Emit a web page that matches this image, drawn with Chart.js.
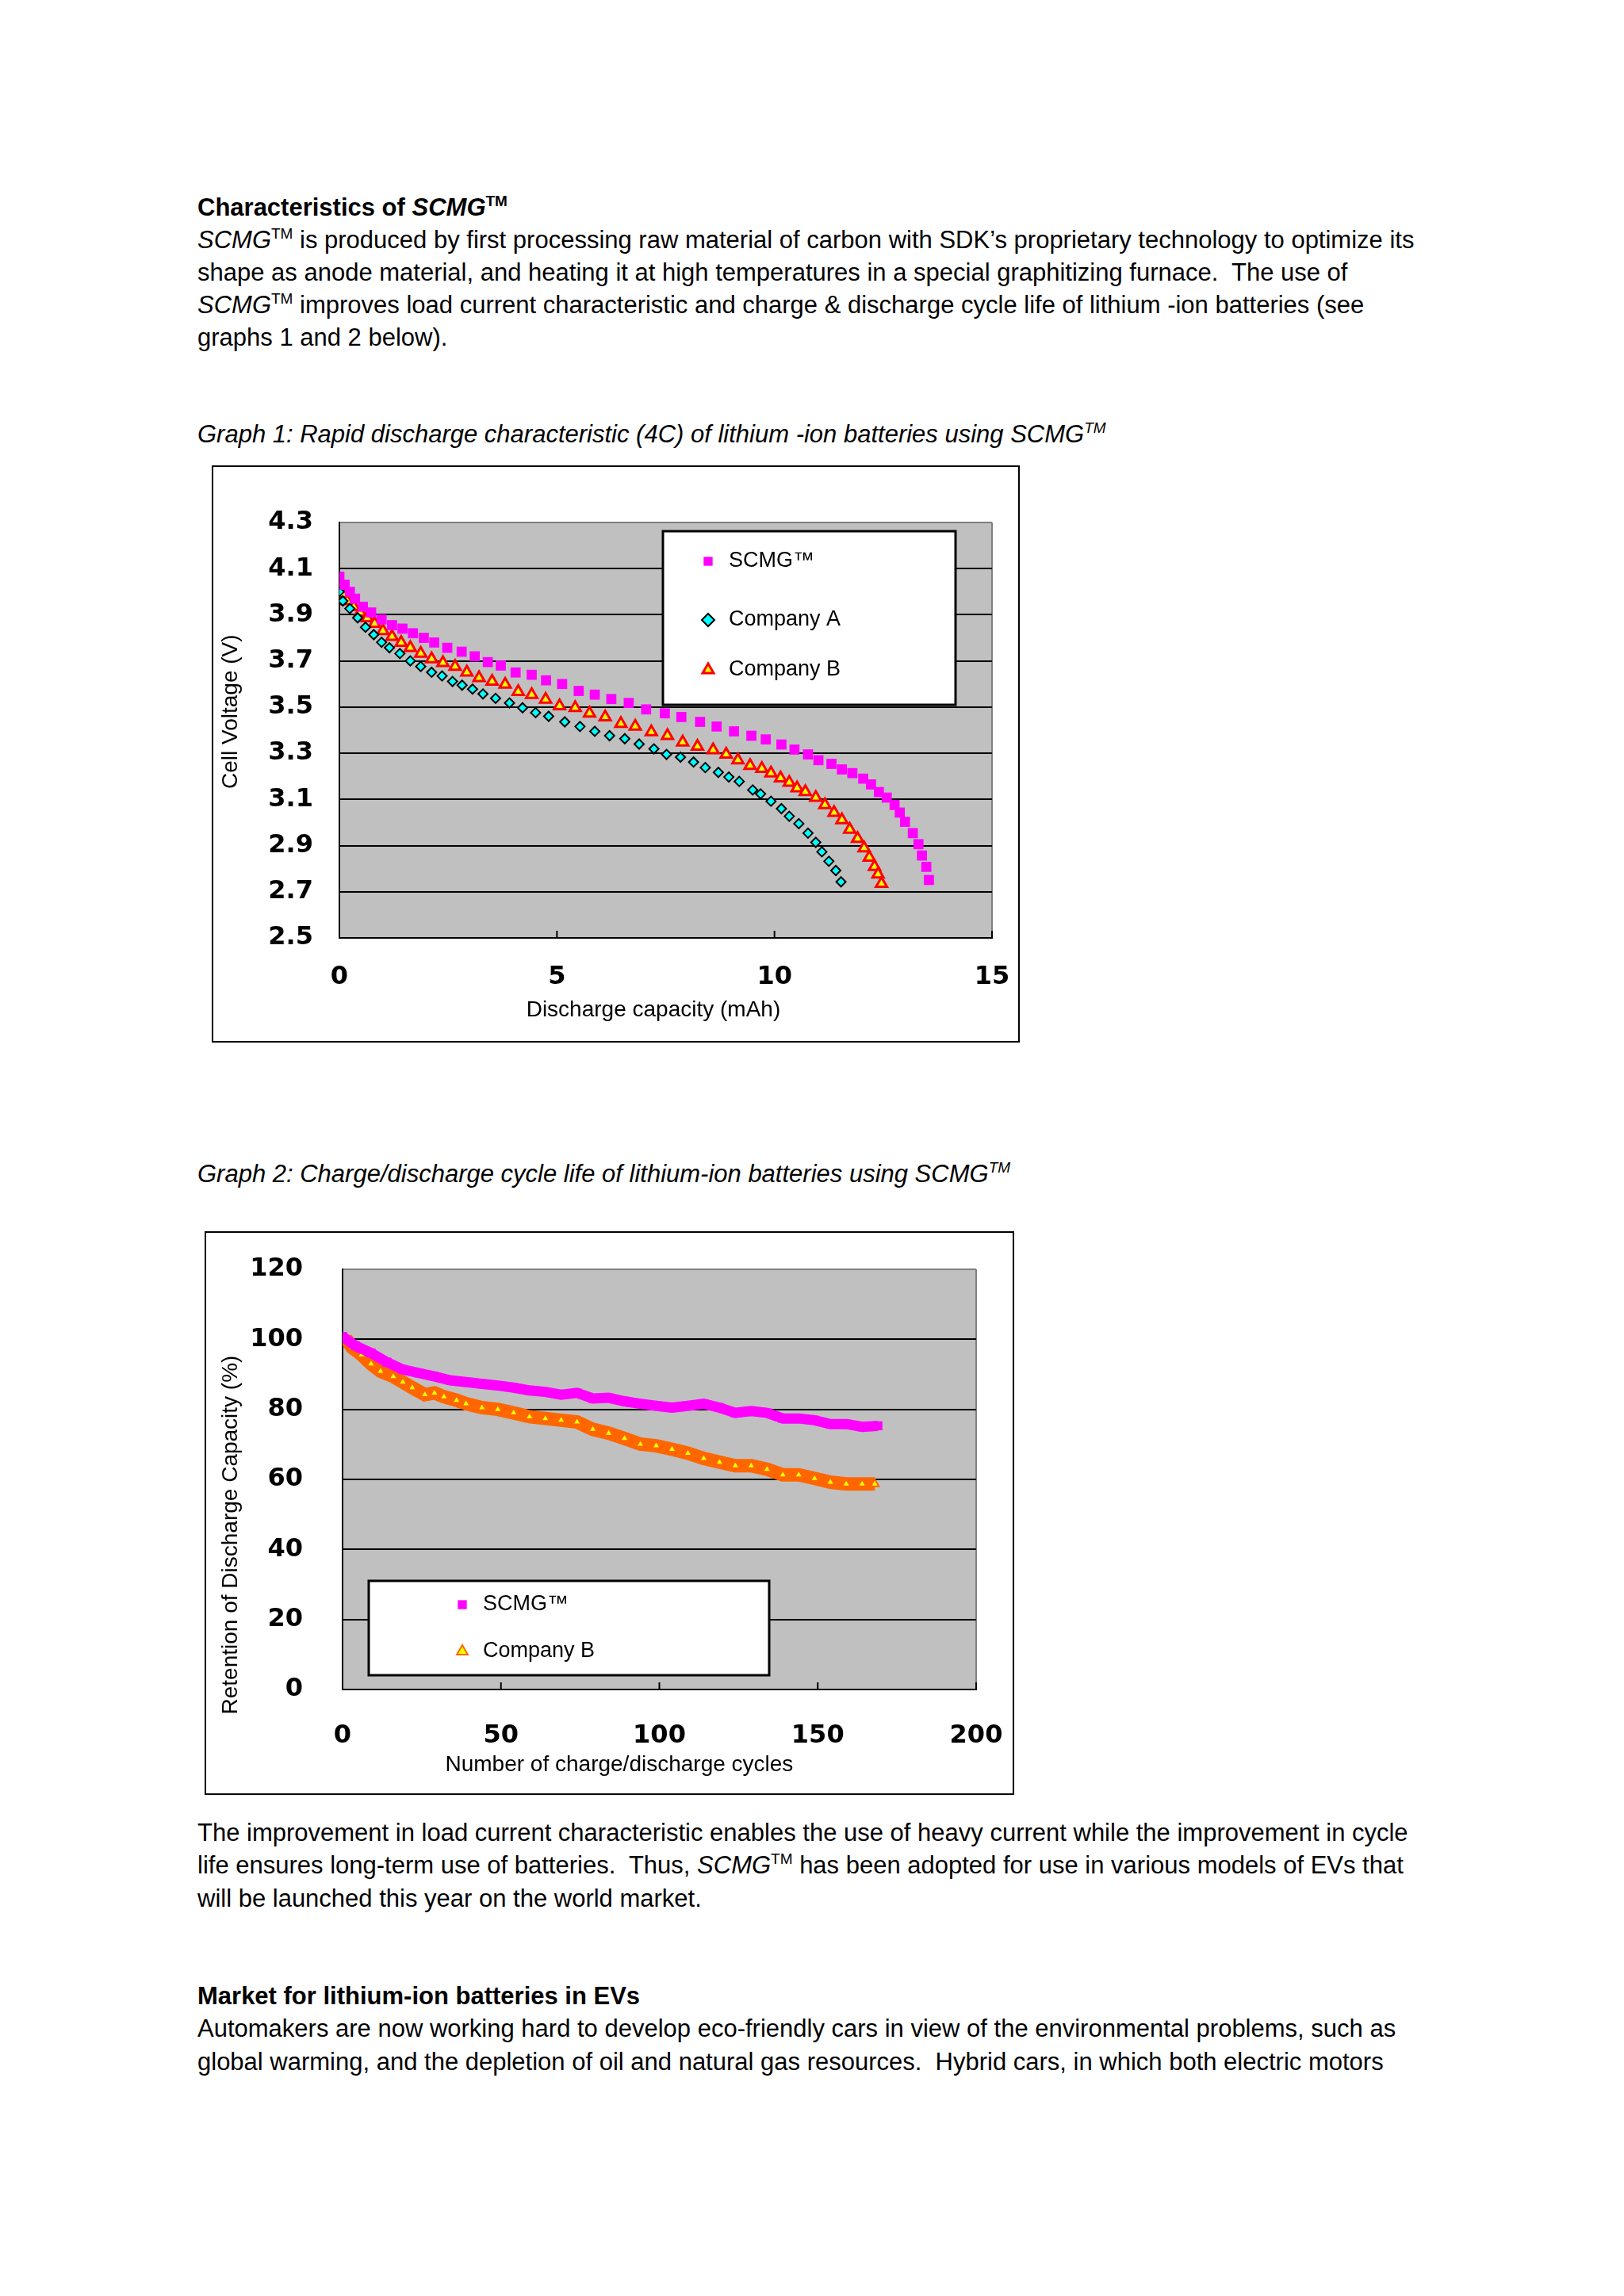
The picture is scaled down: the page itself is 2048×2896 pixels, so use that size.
<!DOCTYPE html>
<html>
<head>
<meta charset="utf-8">
<script src="https://cdn.jsdelivr.net/npm/chart.js@4.4.0/dist/chart.umd.min.js"></script>
<style>
  body { margin: 0; background: #fff; width: 2048px; height: 2896px; position: relative;
         font-family: "Liberation Sans", Arial, sans-serif; color: #000; }
  .ln { position: absolute; left: 249px; font-size: 31px; line-height: 34px; white-space: nowrap; }
  .ln sup { font-size: 19px; vertical-align: 0; position: relative; top: -12px; }
  .b { font-weight: bold; }
  .cap { font-style: italic; }
  .box { position: absolute; border: 2px solid #000; box-sizing: border-box; background: #fff; }
</style>
</head>
<body>

<div class="ln b" style="top:245px">Characteristics of <i>SCMG</i><sup>TM</sup></div>
<div class="ln" style="top:286px"><i>SCMG</i><sup>TM</sup> is produced by first processing raw material of carbon with SDK’s proprietary technology to optimize its</div>
<div class="ln" style="top:327px">shape as anode material, and heating it at high temperatures in a special graphitizing furnace.&nbsp; The use of</div>
<div class="ln" style="top:368px"><i>SCMG</i><sup>TM</sup> improves load current characteristic and charge &amp; discharge cycle life of lithium -ion batteries (see</div>
<div class="ln" style="top:409px">graphs 1 and 2 below).</div>

<div class="ln cap" style="top:531px">Graph 1: Rapid discharge characteristic (4C) of lithium -ion batteries using SCMG<sup>TM</sup></div>
<div class="box" style="left:267px;top:587px;width:1019px;height:728px"><canvas id="chart1"></canvas></div>

<div class="ln cap" style="top:1464px">Graph 2: Charge/discharge cycle life of lithium-ion batteries using SCMG<sup>TM</sup></div>
<div class="box" style="left:258px;top:1553px;width:1021px;height:711px"><canvas id="chart2"></canvas></div>

<div class="ln" style="top:2295px">The improvement in load current characteristic enables the use of heavy current while the improvement in cycle</div>
<div class="ln" style="top:2336px">life ensures long-term use of batteries.&nbsp; Thus, <i>SCMG</i><sup>TM</sup> has been adopted for use in various models of EVs that</div>
<div class="ln" style="top:2378px">will be launched this year on the world market.</div>

<div class="ln b" style="top:2501px">Market for lithium-ion batteries in EVs</div>
<div class="ln" style="top:2542px">Automakers are now working hard to develop eco-friendly cars in view of the environmental problems, such as</div>
<div class="ln" style="top:2584px">global warming, and the depletion of oil and natural gas resources.&nbsp; Hybrid cars, in which both electric motors</div>

<script>
// graph 1 - discharge capacity (mAh) vs cell voltage (V)
const cap_scmg = [0, 0.12, 0.24, 0.36, 0.54, 0.73, 0.97, 1.21, 1.45, 1.69, 1.94, 2.18, 2.48, 2.81, 3.11, 3.41, 3.71, 4.05, 4.42, 4.75, 5.12, 5.50, 5.87, 6.25, 6.65, 7.05, 7.48, 7.86, 8.29, 8.67, 9.07, 9.47, 9.80, 10.16, 10.46, 10.77, 11.01, 11.31, 11.55, 11.79, 12.04, 12.22, 12.40, 12.58, 12.76, 12.88, 13.00, 13.18, 13.31, 13.39, 13.49, 13.55];
const volt_scmg = [4.065, 4.03, 4.00, 3.97, 3.935, 3.91, 3.88, 3.855, 3.84, 3.82, 3.80, 3.78, 3.757, 3.74, 3.72, 3.695, 3.68, 3.65, 3.64, 3.616, 3.60, 3.57, 3.554, 3.535, 3.518, 3.49, 3.473, 3.457, 3.436, 3.416, 3.395, 3.376, 3.36, 3.338, 3.316, 3.295, 3.27, 3.254, 3.23, 3.214, 3.19, 3.165, 3.132, 3.108, 3.076, 3.043, 3.003, 2.954, 2.906, 2.857, 2.808, 2.751];

const cap_a = [0, 0.08, 0.24, 0.42, 0.60, 0.79, 0.97, 1.15, 1.39, 1.63, 1.87, 2.12, 2.36, 2.60, 2.82, 3.06, 3.30, 3.59, 3.91, 4.21, 4.51, 4.81, 5.18, 5.53, 5.87, 6.21, 6.56, 6.89, 7.23, 7.52, 7.84, 8.14, 8.41, 8.71, 8.95, 9.19, 9.50, 9.68, 9.92, 10.16, 10.34, 10.56, 10.77, 10.95, 11.09, 11.25, 11.41, 11.53];
const volt_a = [4.0, 3.96, 3.927, 3.887, 3.846, 3.814, 3.781, 3.757, 3.732, 3.70, 3.676, 3.651, 3.635, 3.611, 3.595, 3.578, 3.557, 3.538, 3.518, 3.497, 3.476, 3.46, 3.436, 3.416, 3.395, 3.376, 3.363, 3.34, 3.319, 3.295, 3.283, 3.262, 3.238, 3.217, 3.197, 3.178, 3.141, 3.124, 3.092, 3.06, 3.027, 2.995, 2.954, 2.914, 2.873, 2.832, 2.792, 2.743];

const cap_b = [0, 0.08, 0.18, 0.33, 0.48, 0.64, 0.81, 1.00, 1.21, 1.42, 1.63, 1.87, 2.12, 2.38, 2.66, 2.93, 3.21, 3.51, 3.81, 4.11, 4.42, 4.74, 5.06, 5.42, 5.75, 6.11, 6.47, 6.80, 7.17, 7.54, 7.89, 8.23, 8.59, 8.89, 9.16, 9.44, 9.71, 9.92, 10.14, 10.34, 10.52, 10.71, 10.95, 11.16, 11.37, 11.55, 11.73, 11.91, 12.06, 12.18, 12.30, 12.38, 12.46];
const volt_b = [4.024, 3.99, 3.96, 3.935, 3.91, 3.886, 3.862, 3.83, 3.805, 3.78, 3.757, 3.732, 3.708, 3.692, 3.676, 3.651, 3.627, 3.611, 3.598, 3.567, 3.554, 3.533, 3.505, 3.497, 3.473, 3.457, 3.428, 3.416, 3.392, 3.376, 3.348, 3.33, 3.314, 3.295, 3.27, 3.246, 3.233, 3.214, 3.192, 3.173, 3.149, 3.133, 3.108, 3.076, 3.043, 3.011, 2.97, 2.93, 2.889, 2.849, 2.808, 2.776, 2.735];

// graph 2 - cycles vs retention (%)
const cyc_scmg = [0, 4, 9, 14, 19, 24, 29, 34, 39, 44, 49, 54, 59, 64, 69, 74, 79, 84, 89, 94, 99, 104, 109, 114, 119, 124, 129, 134, 139, 144, 149, 154, 159, 164, 169];
const ret_scmg = [100.8, 98.2, 96.1, 93.5, 91.4, 90.4, 89.4, 88.3, 87.8, 87.3, 86.8, 86.2, 85.4, 85.0, 84.2, 84.7, 83.1, 83.3, 82.3, 81.6, 81.0, 80.5, 81.0, 81.6, 80.5, 79.0, 79.5, 79.0, 77.4, 77.4, 76.9, 75.8, 75.8, 75.0, 75.3];

const cyc_b = [1, 3, 6, 9, 12, 16, 19, 22, 26, 29, 32, 36, 39, 44, 49, 54, 59, 64, 69, 74, 79, 84, 89, 94, 99, 104, 109, 114, 119, 124, 129, 134, 139, 144, 149, 154, 159, 164, 168];
const ret_b = [100.3, 97.7, 95.6, 93.0, 90.9, 89.4, 87.8, 86.2, 84.2, 84.7, 83.6, 82.6, 81.6, 80.5, 80.0, 79.0, 77.9, 77.4, 76.9, 76.4, 74.3, 73.2, 71.7, 70.1, 69.6, 68.6, 67.5, 66.0, 64.9, 63.9, 63.9, 62.9, 61.3, 61.3, 60.3, 59.2, 58.7, 58.7, 58.7];

const xy = (xs, ys) => xs.map((x, i) => ({ x: x, y: ys[i] }));
const NB = '\u00a0';

// gray plot background
const plotBg = {
  id: 'plotBg',
  beforeDraw(chart) {
    const a = chart.chartArea, ctx = chart.ctx;
    ctx.save();
    ctx.fillStyle = '#c0c0c0';
    ctx.fillRect(a.left, a.top, a.right - a.left, a.bottom - a.top);
    ctx.restore();
  }
};

// small tick marks pointing into the plot from the x axis
const innerTicks = {
  id: 'innerTicks',
  afterDatasetsDraw(chart) {
    const ctx = chart.ctx, xs = chart.scales.x, a = chart.chartArea;
    ctx.save();
    ctx.strokeStyle = '#000';
    ctx.lineWidth = 2;
    xs.ticks.forEach(t => {
      const px = xs.getPixelForValue(t.value);
      ctx.beginPath();
      ctx.moveTo(px, a.bottom);
      ctx.lineTo(px, a.bottom - 9);
      ctx.stroke();
    });
    ctx.restore();
  }
};

// white boxed legend inside the plot
const boxLegend = {
  id: 'boxLegend',
  afterDraw(chart, args, o) {
    const ctx = chart.ctx, a = chart.chartArea;
    ctx.save();
    ctx.fillStyle = '#fff';
    ctx.fillRect(a.left + o.x, a.top + o.y, o.w, o.h);
    ctx.strokeStyle = '#000';
    ctx.lineWidth = 3;
    ctx.strokeRect(a.left + o.x, a.top + o.y, o.w, o.h);
    chart.data.datasets.forEach((ds, i) => {
      const y = a.top + o.rows[i];
      ctx.fillStyle = ds.pointBackgroundColor;
      ctx.strokeStyle = ds.pointBorderColor;
      ctx.lineWidth = ds.pointBorderWidth;
      Chart.helpers.drawPoint(ctx, { pointStyle: ds.pointStyle, radius: o.r, borderWidth: ds.pointBorderWidth }, a.left + o.mx, y);
      ctx.fillStyle = '#000';
      ctx.font = '27px "Liberation Sans", Arial, sans-serif';
      ctx.textBaseline = 'middle';
      ctx.fillText(ds.label, a.left + o.tx, y);
    });
    ctx.restore();
  }
};

function axisOpts(min, max, step, fmt, opt) {
  return {
    type: 'linear', min: min, max: max,
    ticks: { stepSize: step, padding: opt.tickPad, color: '#000', callback: fmt,
             font: { family: '"DejaVu Sans", sans-serif', size: 32, weight: 'bold' } },
    grid: { drawTicks: false, lineWidth: 2, color: opt.gridColor },
    border: { color: '#000', width: 2 },
    title: { display: true, text: opt.title, color: '#000', padding: opt.titlePad,
             font: { family: '"Liberation Sans", Arial, sans-serif', size: 28 } },
    afterFit: s => {
      opt.fit(s);
      // keep the plot exactly where the layout padding puts it
      s.paddingLeft = 0; s.paddingRight = 0; s.paddingTop = 0; s.paddingBottom = 0;
    }
  };
}

function drawchart1() {
  const ctx = document.getElementById('chart1').getContext('2d');
  new Chart(ctx, {
    type: 'scatter',
    data: {
      datasets: [
        { label: 'SCMG™', data: xy(cap_scmg, volt_scmg), pointStyle: 'rect', pointRadius: 9,
          pointBackgroundColor: '#ff00ff', pointBorderColor: '#ff00ff', pointBorderWidth: 0 },
        { label: 'Company A', data: xy(cap_a, volt_a), pointStyle: 'rectRot', pointRadius: 6,
          pointBackgroundColor: '#00ffff', pointBorderColor: '#000', pointBorderWidth: 2 },
        { label: 'Company B', data: xy(cap_b, volt_b), pointStyle: 'triangle', pointRadius: 8,
          pointBackgroundColor: '#ffff00', pointBorderColor: '#ff0000', pointBorderWidth: 3 }
      ]
    },
    options: {
      responsive: true, maintainAspectRatio: false, animation: false,
      layout: { padding: { top: 70, right: 33, left: 0, bottom: 0 } },
      scales: {
        x: axisOpts(0, 15, 5, v => v, {
          tickPad: 30, title: 'Discharge capacity (mAh)' + NB.repeat(4), titlePad: { top: 0, bottom: 22 },
          gridColor: c => (c.tick && c.tick.value === 15) ? '#808080' : 'rgba(0,0,0,0)',
          fit: s => { s.height = 130; } }),
        y: axisOpts(2.5, 4.3, 0.2, v => (+v).toFixed(1), {
          tickPad: 33, title: NB.repeat(6) + 'Cell Voltage (V)', titlePad: { top: 5, bottom: 0 },
          gridColor: c => (c.tick && c.tick.value > 4.29) ? '#808080' : '#000',
          fit: s => { s.width = 159; } })
      },
      plugins: {
        legend: { display: false },
        tooltip: { enabled: false },
        boxLegend: { x: 408, y: 11, w: 369, h: 219, mx: 465, tx: 491, r: 8, rows: [49, 123, 186] }
      }
    },
    plugins: [plotBg, innerTicks, boxLegend]
  });
}

function drawchart2() {
  const ctx = document.getElementById('chart2').getContext('2d');
  new Chart(ctx, {
    type: 'scatter',
    data: {
      datasets: [
        { label: 'SCMG™', data: xy(cyc_scmg, ret_scmg), showLine: true, borderColor: '#ff00ff', borderWidth: 13,
          pointStyle: 'rect', pointRadius: 8,
          pointBackgroundColor: '#ff00ff', pointBorderColor: '#ff00ff', pointBorderWidth: 0 },
        { label: 'Company B', data: xy(cyc_b, ret_b), showLine: true, borderColor: '#ff6600', borderWidth: 17,
          pointStyle: 'triangle', pointRadius: 6,
          pointBackgroundColor: '#ffff00', pointBorderColor: '#ff6600', pointBorderWidth: 2 }
      ]
    },
    options: {
      responsive: true, maintainAspectRatio: false, animation: false,
      layout: { padding: { top: 46, right: 46, left: 0, bottom: 0 } },
      scales: {
        x: axisOpts(0, 200, 50, v => v, {
          tickPad: 39, title: 'Number of charge/discharge cycles' + NB.repeat(13), titlePad: { top: 0, bottom: 19 },
          gridColor: c => (c.tick && c.tick.value === 200) ? '#808080' : 'rgba(0,0,0,0)',
          fit: s => { s.height = 131; } }),
        y: axisOpts(0, 120, 20, v => v, {
          tickPad: 50, title: 'Retention of Discharge Capacity (%)' + NB.repeat(18), titlePad: { top: 14, bottom: 0 },
          gridColor: c => (c.tick && c.tick.value === 120) ? '#808080' : '#000',
          fit: s => { s.width = 172; } })
      },
      plugins: {
        legend: { display: false },
        tooltip: { enabled: false },
        boxLegend: { x: 33, y: 393, w: 505, h: 119, mx: 151, tx: 177, r: 8, rows: [423, 482] }
      }
    },
    plugins: [plotBg, innerTicks, boxLegend]
  });
}

drawchart1();
drawchart2();
</script>
</body>
</html>
